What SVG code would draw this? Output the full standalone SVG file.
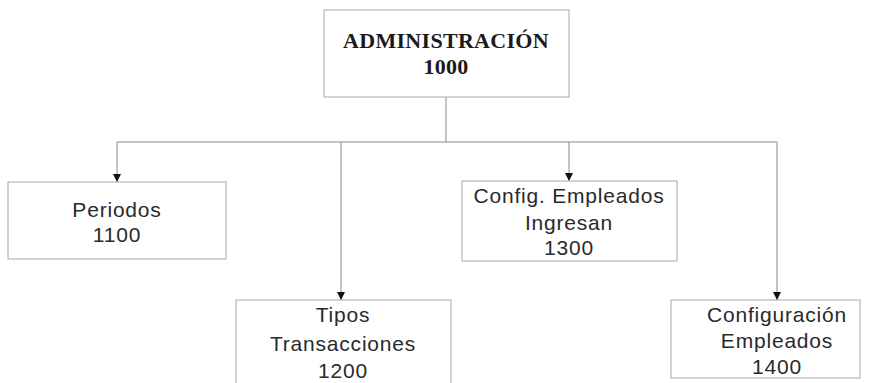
<svg xmlns="http://www.w3.org/2000/svg" width="875" height="383" viewBox="0 0 875 383">
<style>
.box{fill:#fff;stroke:#a8a8a8;stroke-width:1}
.ln{fill:none;stroke:#8a8a8a;stroke-width:1}
.t{font-family:"Liberation Sans",Arial,sans-serif;font-size:21px;fill:#2a2a2a;text-anchor:middle;letter-spacing:0.8px}
.tb{font-family:"Liberation Serif","Times New Roman",serif;font-size:22px;font-weight:bold;fill:#1a1a1a;text-anchor:middle;letter-spacing:0.3px}
</style>
<defs>
<marker id="arr" markerWidth="8" markerHeight="8" refX="8" refY="4" orient="auto" markerUnits="userSpaceOnUse" viewBox="0 0 8 8">
<path d="M0,0 L8,4 L0,8 Z" fill="#111"/>
</marker>
</defs>
<rect width="875" height="383" fill="#fff"/>
<g id="connectors">
<line class="ln" x1="446" y1="97" x2="446" y2="142"/>
<line class="ln" x1="117" y1="142" x2="777" y2="142"/>
<path class="ln" d="M117,142 V182" marker-end="url(#arr)"/>
<path class="ln" d="M341,142 V300" marker-end="url(#arr)"/>
<path class="ln" d="M569,142 V181" marker-end="url(#arr)"/>
<path class="ln" d="M777,142 V300" marker-end="url(#arr)"/>
</g>
<g id="n1000">
<rect class="box" x="324" y="10" width="245" height="87"/>
<text class="tb" x="446" y="48">ADMINISTRACIÓN</text>
<text class="tb" x="446" y="74">1000</text>
</g>
<g id="n1100">
<rect class="box" x="8" y="182" width="218" height="77"/>
<text class="t" x="117" y="217">Periodos</text>
<text class="t" x="117" y="242">1100</text>
</g>
<g id="n1200">
<rect class="box" x="236" y="300" width="215" height="90"/>
<text class="t" x="343" y="322">Tipos</text>
<text class="t" x="343" y="351">Transacciones</text>
<text class="t" x="343" y="378">1200</text>
</g>
<g id="n1300">
<rect class="box" x="462" y="181" width="215" height="80"/>
<text class="t" x="569" y="203">Config. Empleados</text>
<text class="t" x="569" y="230">Ingresan</text>
<text class="t" x="569" y="255">1300</text>
</g>
<g id="n1400">
<rect class="box" x="671" y="300" width="189" height="78"/>
<text class="t" x="777" y="322">Configuración</text>
<text class="t" x="777" y="348">Empleados</text>
<text class="t" x="777" y="374">1400</text>
</g>
</svg>
